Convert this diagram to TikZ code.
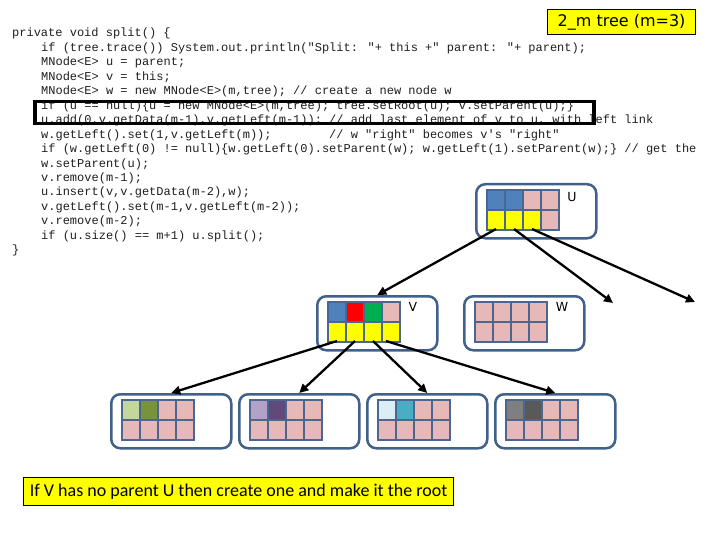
\documentclass[tikz,border=0pt]{standalone}
\usepackage{fontspec}
\usetikzlibrary{calc,arrows.meta}
\newfontfamily\codefont{Liberation Mono}[Ligatures=TeXOff]
\newfontfamily\labfont{DejaVu Sans}
\newfontfamily\capfont{Carlito}
\definecolor{boxcol}{HTML}{41618A}
\definecolor{gridcol}{HTML}{4B6790}
\definecolor{cpk}{HTML}{E6B9B8}
\definecolor{cbl}{HTML}{4F81BD}
\definecolor{cyl}{HTML}{FFFF00}
\definecolor{crd}{HTML}{FF0000}
\definecolor{cgr}{HTML}{00B050}
\definecolor{clg}{HTML}{C3D69B}
\definecolor{cog}{HTML}{77933C}
\definecolor{clv}{HTML}{B3A2C7}
\definecolor{cpu}{HTML}{604A7B}
\definecolor{clb}{HTML}{DBEEF4}
\definecolor{ctl}{HTML}{4BACC6}
\definecolor{cga}{HTML}{7F7F7F}
\definecolor{cgb}{HTML}{595959}
\tikzset{
  tbox/.style={draw=boxcol, line width=2.5bp, rounded corners=9bp, minimum width=120bp, minimum height=54bp, inner sep=0, fill=white},
  gridbg/.style={fill=gridcol, minimum width=74bp, minimum height=42bp, inner sep=0, outer sep=0},
  cell/.style={minimum width=16bp, minimum height=18bp, inner sep=0, outer sep=0},
  code/.style={font=\codefont\fontsize{12bp}{14bp}\selectfont, anchor=base west, inner sep=0, text=black!88},
  lab/.style={font=\labfont\fontsize{12.5bp}{14bp}\selectfont, inner sep=0},
  arr/.style={line width=2.3bp, -{Triangle[length=9bp,width=8.5bp]}},
}
\newcommand{\treenode}[3]{%
  \node[tbox, anchor=north west] (#1) at (#2) {};
  \node[gridbg, anchor=north west] (#1g) at ($(#1.north west)+(11,6)$) {};
  \foreach \cc [count=\i from 0] in {#3} {
    \pgfmathtruncatemacro{\col}{mod(\i,4)}
    \pgfmathtruncatemacro{\row}{int(\i/4)}
    \pgfmathtruncatemacro{\k}{\i+1}
    \node[cell, fill=\cc, anchor=north west] (#1c\k) at ($(#1g.north west)+(2+18*\col,2+20*\row)$) {};
  }
}
\begin{document}
\begin{tikzpicture}[x=1bp,y=-1bp]
\useasboundingbox (0,0) rectangle (720,540);
\fill[white] (0,0) rectangle (720,540);

% code
\node[code] (l1) at (12,37) {private void split() \{};
\node[code] (l2) at (41,51.45) {if (tree.trace()) System.out.println("Split: "+ this +" parent: "+ parent);};
\node[code] (l3) at (41,65.9) {MNode<E> u = parent;};
\node[code] (l4) at (41,80.35) {MNode<E> v = this;};
\node[code] (l5) at (41,94.8) {MNode<E> w = new MNode<E>(m,tree); // create a new node w};
\node[code] (l6) at (41,109.25) {if (u == null)\{u = new MNode<E>(m,tree); tree.setRoot(u); v.setParent(u);\}};
\node[code] (l7) at (41,123.7) {u.add(0,v.getData(m-1),v.getLeft(m-1)); // add last element of v to u, with left link};
\node[code] (l8) at (41,138.15) {w.getLeft().set(1,v.getLeft(m));\hspace{57.6bp}// w "right" becomes v's "right"};
\node[code] (l9) at (41,152.6) {if (w.getLeft(0) != null)\{w.getLeft(0).setParent(w); w.getLeft(1).setParent(w);\} // get the};
\node[code] (l10) at (41,167.05) {w.setParent(u);};
\node[code] (l11) at (41,181.5) {v.remove(m-1);};
\node[code] (l12) at (41,195.95) {u.insert(v,v.getData(m-2),w);};
\node[code] (l13) at (41,210.4) {v.getLeft().set(m-1,v.getLeft(m-2));};
\node[code] (l14) at (41,224.85) {v.remove(m-2);};
\node[code] (l15) at (41,239.3) {if (u.size() == m+1) u.split();};
\node[code] (l16) at (12,253.75) {\}};

% highlight box
\node[draw=black, line width=3.5bp, minimum width=559bp, minimum height=21.7bp, inner sep=0, anchor=north west] (hl) at (33,100) {};

% title
\node[draw=black, line width=1.2bp, fill=cyl, minimum width=148bp, minimum height=25bp, inner sep=0, anchor=north west,
      font=\labfont\fontsize{16bp}{18bp}\selectfont] (title) at (547,9) {2\_m tree (m=3)};

% tree nodes
\treenode{U}{475,183}{cbl,cbl,cpk,cpk,cyl,cyl,cyl,cpk}
\treenode{V}{316,295}{cbl,crd,cgr,cpk,cyl,cyl,cyl,cyl}
\treenode{W}{463,295}{cpk,cpk,cpk,cpk,cpk,cpk,cpk,cpk}
\treenode{C1}{110,393}{clg,cog,cpk,cpk,cpk,cpk,cpk,cpk}
\treenode{C2}{238,393}{clv,cpu,cpk,cpk,cpk,cpk,cpk,cpk}
\treenode{C3}{366,393}{clb,ctl,cpk,cpk,cpk,cpk,cpk,cpk}
\treenode{C4}{494,393}{cga,cgb,cpk,cpk,cpk,cpk,cpk,cpk}

\node[lab] (Ul) at ($(U.north west)+(97,14)$) {U};
\node[lab] (Vl) at ($(V.north west)+(97,12)$) {V};
\node[lab] (Wl) at ($(W.north west)+(99,12)$) {W};

% arrows
\coordinate (wt) at (613,303);
\coordinate (rt) at (695,302);
\draw[arr] (Uc5.south) -- (V.north);
\draw[arr] (Uc6.south) -- (wt);
\draw[arr] (Uc7.south) -- (rt);
\draw[arr] (Vc5.south) -- (C1.north);
\draw[arr] (Vc6.south) -- (C2.north);
\draw[arr] (Vc7.south) -- (C3.north);
\draw[arr] ([xshift=-5bp]Vc8.south) -- (C4.north);

% caption
\node[draw=black, line width=1.2bp, fill=cyl, minimum width=430bp, minimum height=28bp, inner sep=0, anchor=north west,
      font=\capfont\fontsize{18bp}{20bp}\selectfont] (cap) at (23,477) {If V has no parent U then create one and make it the root};
\end{tikzpicture}
\end{document}
